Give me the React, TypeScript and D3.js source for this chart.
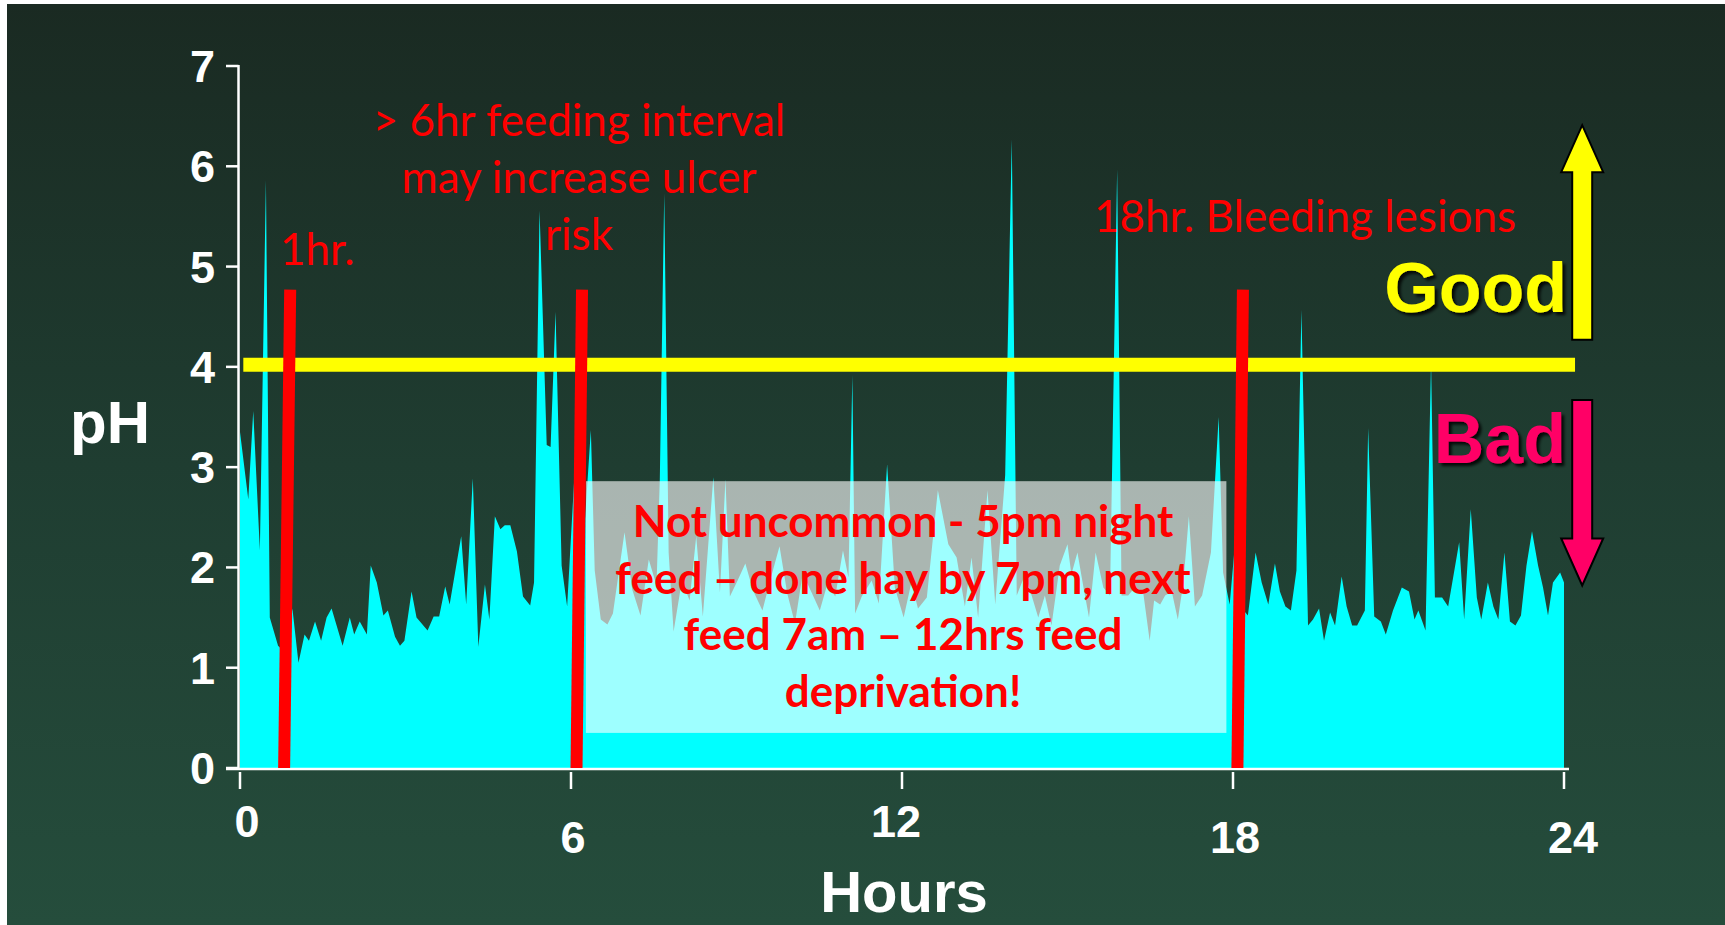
import React from "react";
import * as d3 from "d3";

// ---- data ----
const hours = [
  0.0, 0.15, 0.24, 0.36, 0.47, 0.54, 0.69, 0.82, 0.95, 1.06, 1.17, 1.25, 1.36, 1.47, 1.57, 1.66, 1.86, 1.99,
  2.07, 2.17, 2.3, 2.37, 2.48, 2.6, 2.68, 2.81, 2.9, 2.98, 3.11, 3.2, 3.4, 3.51, 3.61, 3.72, 3.8, 4.01, 4.1,
  4.22, 4.32, 4.44, 4.52, 4.62, 4.72, 4.8, 4.9, 5.02, 5.13, 5.26, 5.33, 5.43, 5.56, 5.63, 5.72, 5.83, 5.93,
  6.07, 6.22, 6.36, 6.43, 6.54, 6.66, 6.76, 6.97, 7.11, 7.26, 7.41, 7.55, 7.61, 7.69, 7.77, 7.86, 8.01, 8.15,
  8.27, 8.39, 8.58, 8.7, 8.8, 8.88, 9.02, 9.16, 9.3, 9.47, 9.61, 9.78, 9.92, 10.06, 10.2, 10.37, 10.51, 10.65,
  10.79, 10.93, 11.03, 11.1, 11.15, 11.27, 11.45, 11.58, 11.73, 11.87, 12.03, 12.17, 12.29, 12.45, 12.65,
  12.84, 12.99, 13.14, 13.26, 13.38, 13.55, 13.69, 13.87, 13.99, 14.08, 14.23, 14.35, 14.47, 14.59, 14.71,
  14.86, 15.0, 15.07, 15.18, 15.29, 15.39, 15.51, 15.65, 15.77, 15.9, 15.98, 16.1, 16.22, 16.37, 16.49,
  16.57, 16.68, 16.77, 16.89, 17.0, 17.1, 17.2, 17.31, 17.44, 17.6, 17.74, 17.82, 17.94, 18.03, 18.15,
  18.27, 18.41, 18.52, 18.64, 18.76, 18.85, 18.95, 19.05, 19.15, 19.24, 19.36, 19.45, 19.56, 19.65, 19.76,
  19.85, 19.97, 20.06, 20.16, 20.25, 20.39, 20.45, 20.56, 20.68, 20.77, 20.9, 21.06, 21.19, 21.29, 21.36,
  21.49, 21.59, 21.66, 21.79, 21.9, 22.1, 22.19, 22.31, 22.42, 22.5, 22.62, 22.72, 22.81, 22.92, 23.02,
  23.12, 23.22, 23.32, 23.42, 23.53, 23.62, 23.71, 23.8, 23.93, 24.0,
];
const ph = [
  3.35, 2.68, 3.56, 2.17, 5.86, 1.5, 1.22, 1.15, 1.59, 1.05, 1.33, 1.27, 1.46, 1.27, 1.5, 1.59, 1.22, 1.5,
  1.33, 1.46, 1.33, 2.02, 1.85, 1.52, 1.57, 1.31, 1.22, 1.27, 1.76, 1.5, 1.37, 1.51, 1.51, 1.81, 1.63, 2.31, 1.63,
  2.89, 1.21, 1.83, 1.48, 2.51, 2.38, 2.42, 2.42, 2.16, 1.71, 1.62, 1.85, 5.56, 3.22, 3.2, 4.55, 2.02, 1.61,
  3.0, 2.2, 3.37, 1.97, 1.48, 1.43, 1.54, 2.35, 1.78, 1.52, 2.08, 1.82, 2.88, 5.73, 2.15, 1.36, 1.87, 1.67,
  2.31, 1.51, 2.9, 1.75, 2.88, 1.71, 1.87, 2.04, 1.77, 1.57, 1.87, 2.21, 1.74, 1.44, 1.94, 1.74, 1.57, 1.84,
  1.71, 2.17, 1.9, 3.92, 1.54, 1.71, 1.87, 1.64, 3.03, 1.8, 1.5, 1.85, 1.59, 1.7, 2.77,
  2.23, 2.1, 1.61, 2.1, 1.5, 2.77, 1.63, 2.92, 6.27, 1.72, 1.93, 1.72, 1.5, 1.72, 1.42,
  2.02, 2.23, 1.93, 2.15, 1.8, 1.5, 2.15, 1.8, 1.72, 5.97, 1.72, 1.72, 1.8, 1.76, 1.27,
  1.67, 1.63, 1.72, 1.76, 1.48, 1.85, 2.51, 1.61, 1.72, 2.15, 3.5, 1.95, 1.63, 2.2, 1.6,
  1.52, 2.15, 1.85, 1.63, 2.04, 1.76, 1.61, 1.57, 1.97, 4.57, 1.42, 1.48, 1.59, 1.27, 1.55,
  1.42, 1.91, 1.61, 1.42, 1.42, 1.57, 3.39, 1.51, 1.46, 1.33, 1.57, 1.8, 1.76, 1.48, 1.57,
  1.37, 4.05, 1.7, 1.7, 1.61, 2.25, 1.48, 2.58, 1.7, 1.48, 1.85, 1.61, 1.48, 2.15, 1.46,
  1.42, 1.52, 2.02, 2.36, 2.02, 1.8, 1.52, 1.85, 1.95, 1.85,
];

const yTicks = [0, 1, 2, 3, 4, 5, 6, 7];
const xTicks = [0, 6, 12, 18, 24];

const threshold = 4;
const markerBaseHours = [0.8, 6.1, 18.08];
const markerTopHours = [0.91, 6.2, 18.18];
const markerTopPH = 4.77;

const boxHours = [6.27, 17.88];
const boxPH = [0.35, 2.86];

const annoTop = ["> 6hr feeding interval", "may increase ulcer", "risk"];
const annoBox = [
  "Not uncommon - 5pm night",
  "feed \u2013 done hay by 7pm, next",
  "feed 7am \u2013 12hrs feed",
  "deprivation!",
];

const W = 1725;
const H = 925;

export default function App() {
  const x = d3.scaleLinear().domain([0, 24]).range([240, 1564]);
  const y = d3.scaleLinear().domain([0, 7]).range([768, 66]);

  const pts = hours.map((h, i) => [h, ph[i]] as [number, number]);
  const area = d3
    .area<[number, number]>()
    .x((d) => x(d[0]))
    .y0(y(0))
    .y1((d) => y(d[1]))
    .curve(d3.curveLinear);

  const tickFont = "'Liberation Sans', Arial, Helvetica, sans-serif";
  const annoFont = "Lato, 'Open Sans', sans-serif";

  const arrowX = x(24.33);
  const shaftW = 20;
  const headW = 42;
  const headL = 47;

  const upFrom = y(4.27);
  const upTo = y(6.41);
  const upPath = [
    [arrowX - shaftW / 2, upFrom],
    [arrowX - shaftW / 2, upTo + headL],
    [arrowX - headW / 2, upTo + headL],
    [arrowX, upTo],
    [arrowX + headW / 2, upTo + headL],
    [arrowX + shaftW / 2, upTo + headL],
    [arrowX + shaftW / 2, upFrom],
  ];
  const downFrom = y(3.67);
  const downTo = y(1.82);
  const downPath = [
    [arrowX - shaftW / 2, downFrom],
    [arrowX - shaftW / 2, downTo - headL],
    [arrowX - headW / 2, downTo - headL],
    [arrowX, downTo],
    [arrowX + headW / 2, downTo - headL],
    [arrowX + shaftW / 2, downTo - headL],
    [arrowX + shaftW / 2, downFrom],
  ];
  const poly = (p: number[][]) => "M" + p.map((q) => q.join(",")).join("L") + "Z";

  return (
    <svg
      width={W}
      height={H}
      style={{ position: "absolute", left: 0, top: 0, display: "block" }}
    >
      <defs>
        <linearGradient id="bg" x1="0" y1="0" x2="0" y2="1">
          <stop offset="0" stopColor="#1a2a22" />
          <stop offset="0.5" stopColor="#1f3d31" />
          <stop offset="1" stopColor="#254d3c" />
        </linearGradient>
        <filter id="shadow" x="-10%" y="-10%" width="130%" height="140%">
          <feDropShadow dx="3" dy="3" stdDeviation="1.6" floodColor="#000" floodOpacity="0.85" />
        </filter>
      </defs>
      <rect x={0} y={0} width={W} height={H} fill="#ffffff" />
      <rect x={7} y={4} width={W - 7} height={H - 4} fill="url(#bg)" />

      {/* pH trace */}
      <path d={area(pts) || ""} fill="#00ffff" />

      {/* translucent box */}
      <rect
        x={x(boxHours[0])}
        y={y(boxPH[1])}
        width={x(boxHours[1]) - x(boxHours[0])}
        height={y(boxPH[0]) - y(boxPH[1])}
        fill="#ffffff"
        fillOpacity={0.62}
      />

      {/* axes */}
      <line x1={x(0) - 1.5} x2={x(0) - 1.5} y1={y(7) - 1} y2={y(0) + 2} stroke="#fff" strokeWidth={2.5} />
      {yTicks.map((t) => (
        <g key={"y" + t}>
          <line x1={x(0) - 14} x2={x(0) - 1.5} y1={y(t)} y2={y(t)} stroke="#fff" strokeWidth={2.5} />
          <text
            x={x(0) - 25}
            y={y(t) + 16}
            textAnchor="end"
            fontFamily={tickFont}
            fontWeight="bold"
            fontSize={45}
            fill="#fff"
          >
            {t}
          </text>
        </g>
      ))}
      <line x1={x(0) - 14} x2={x(24) + 5} y1={y(0) + 1} y2={y(0) + 1} stroke="#fff" strokeWidth={2.5} />
      {xTicks.map((t) => {
        const low = t % 12 !== 0 || t === 24;
        const dx = t === 0 ? 7 : t === 24 ? 9 : t === 12 ? -6 : 2;
        return (
          <g key={"x" + t}>
            <line x1={x(t)} x2={x(t)} y1={y(0) + 4} y2={y(0) + 21} stroke="#fff" strokeWidth={2.5} />
            <text
              x={x(t) + dx}
              y={low ? 853 : 837}
              textAnchor="middle"
              fontFamily={tickFont}
              fontWeight="bold"
              fontSize={45}
              fill="#fff"
            >
              {t}
            </text>
          </g>
        );
      })}
      <text x={110} y={443} textAnchor="middle" fontFamily={tickFont} fontWeight="bold" fontSize={60} fill="#fff">
        pH
      </text>
      <text x={904} y={912} textAnchor="middle" fontFamily={tickFont} fontWeight="bold" fontSize={58} fill="#fff">
        Hours
      </text>

      {/* threshold line */}
      <line
        x1={x(0.06)}
        x2={x(24.2)}
        y1={y(threshold) - 2}
        y2={y(threshold) - 2}
        stroke="#ffff00"
        strokeWidth={14}
      />

      {/* feeding markers */}
      {markerBaseHours.map((h, i) => (
        <line
          key={"m" + i}
          x1={x(h)}
          y1={y(0)}
          x2={x(markerTopHours[i])}
          y2={y(markerTopPH)}
          stroke="#ff0000"
          strokeWidth={12}
        />
      ))}

      {/* annotations */}
      <text x={280} y={265} fontFamily={annoFont} fontSize={44} fill="#ff0000">
        1hr.
      </text>
      {annoTop.map((s, i) => (
        <text
          key={"a" + i}
          x={579}
          y={136 + i * 57}
          textAnchor="middle"
          fontFamily={annoFont}
          fontSize={44}
          fill="#ff0000"
        >
          {s}
        </text>
      ))}
      <text x={1305} y={232} textAnchor="middle" fontFamily={annoFont} fontSize={44} fill="#ff0000">
        18hr. Bleeding lesions
      </text>
      {annoBox.map((s, i) => (
        <text
          key={"b" + i}
          x={903}
          y={537 + i * 56.7}
          textAnchor="middle"
          fontFamily={annoFont}
          fontWeight="bold"
          fontSize={44}
          fill="#ff0000"
        >
          {s}
        </text>
      ))}

      {/* Good / Bad */}
      <text
        x={1567}
        y={312}
        textAnchor="end"
        fontFamily={tickFont}
        fontWeight="bold"
        fontSize={70}
        fill="#ffff00"
        filter="url(#shadow)"
      >
        Good
      </text>
      <text
        x={1566}
        y={463}
        textAnchor="end"
        fontFamily={tickFont}
        fontWeight="bold"
        fontSize={70}
        fill="#ff0066"
        filter="url(#shadow)"
      >
        Bad
      </text>
      <path d={poly(upPath)} fill="#ffff00" stroke="#000" strokeWidth={2} strokeLinejoin="miter" />
      <path d={poly(downPath)} fill="#ff0066" stroke="#000" strokeWidth={2} strokeLinejoin="miter" />
    </svg>
  );
}
